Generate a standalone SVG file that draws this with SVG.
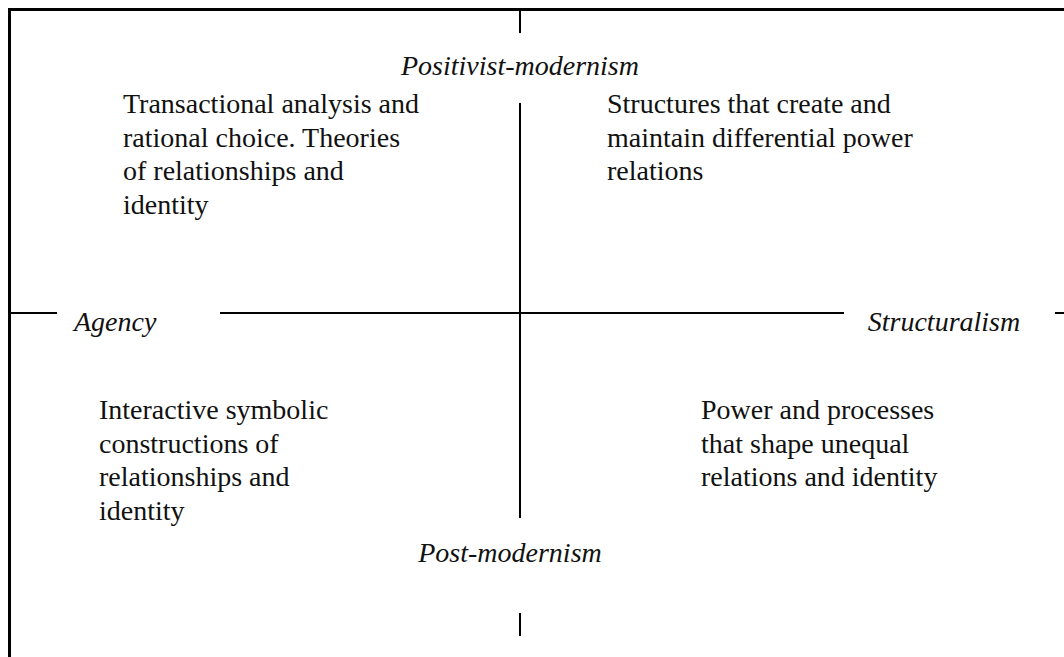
<svg xmlns="http://www.w3.org/2000/svg" width="1064" height="657" viewBox="0 0 1064 657">
<style>
.ln{stroke:#000;stroke-width:2;fill:none}
.fr{stroke:#000;stroke-width:3;fill:none}
.body{font-family:"Liberation Serif",serif;font-size:28px;fill:#111}
.lab{font-family:"Liberation Serif",serif;font-style:italic;font-size:28px;fill:#111}
</style>
<rect width="1064" height="657" fill="#fff"/>
<g id="connectors">
<path class="fr" d="M9.5,657 V9.5 H1064"/>
<path class="ln" d="M520,10 V33 M520,103 V518 M520,613 V636"/>
<path class="ln" d="M10,313 H57 M220,313 H844 M1055,313 H1064"/>
</g>
<g id="positivist"><text class="lab" x="520" y="75" text-anchor="middle">Positivist-modernism</text></g>
<g id="agency"><text class="lab" x="74" y="331">Agency</text></g>
<g id="structuralism"><text class="lab" x="944" y="331" text-anchor="middle">Structuralism</text></g>
<g id="postmodernism"><text class="lab" x="510" y="562" text-anchor="middle">Post-modernism</text></g>
<g id="q-top-left"><text class="body" x="123" y="113"><tspan x="123">Transactional analysis and</tspan><tspan x="123" dy="33.5">rational choice. Theories</tspan><tspan x="123" dy="33.5">of relationships and</tspan><tspan x="123" dy="33.5">identity</tspan></text></g>
<g id="q-top-right"><text class="body" x="607" y="113"><tspan x="607">Structures that create and</tspan><tspan x="607" dy="33.5">maintain differential power</tspan><tspan x="607" dy="33.5">relations</tspan></text></g>
<g id="q-bottom-left"><text class="body" x="99" y="419"><tspan x="99">Interactive symbolic</tspan><tspan x="99" dy="33.5">constructions of</tspan><tspan x="99" dy="33.5">relationships and</tspan><tspan x="99" dy="33.5">identity</tspan></text></g>
<g id="q-bottom-right"><text class="body" x="701" y="419"><tspan x="701">Power and processes</tspan><tspan x="701" dy="33.5">that shape unequal</tspan><tspan x="701" dy="33.5">relations and identity</tspan></text></g>
</svg>
